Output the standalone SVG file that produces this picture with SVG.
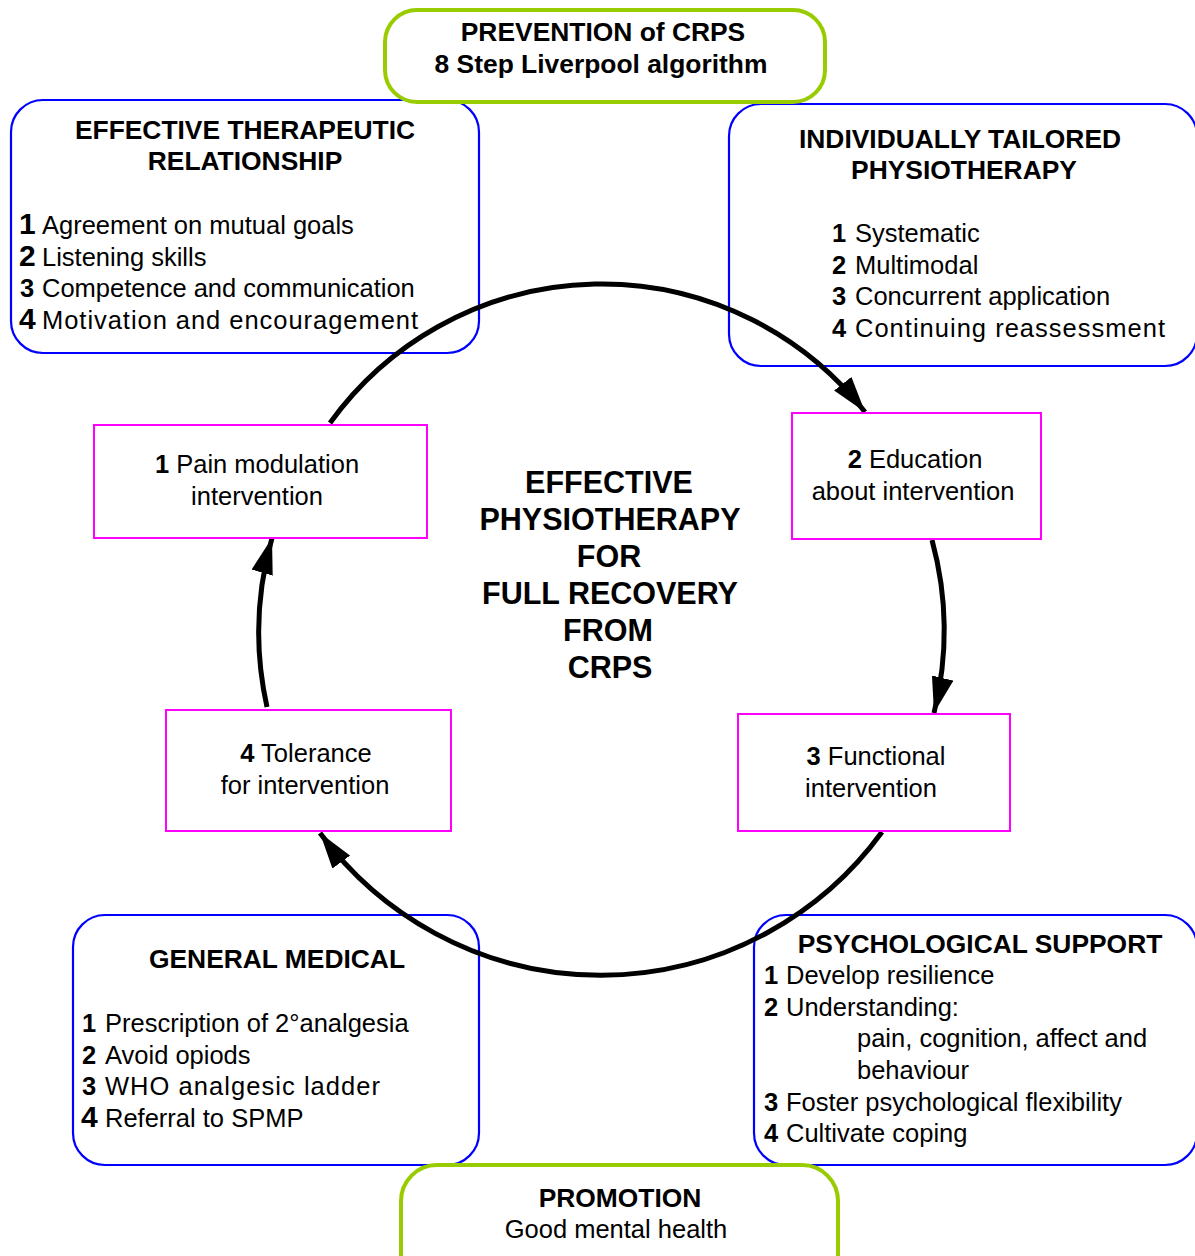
<svg xmlns="http://www.w3.org/2000/svg" width="1195" height="1256" viewBox="0 0 1195 1256">
<style>
text{font-family:"Liberation Sans",Arial,sans-serif;fill:#000}
.h{font-weight:bold;font-size:26.4px}
.t{font-size:25.5px}
.c{font-weight:bold;font-size:30.5px}
.b{font-weight:bold}
.bn{font-weight:bold;font-size:30px}
.mid{text-anchor:middle}
.blue{fill:#fff;stroke:#0000ff;stroke-width:2.2}
.green{fill:#fff;stroke:#99cc00;stroke-width:4}
.mag{fill:#fff;stroke:#ff00ff;stroke-width:2}
.arc{fill:none;stroke:#000;stroke-width:5;marker-end:url(#ah)}
</style>
<defs>
<marker id="ah" markerUnits="userSpaceOnUse" markerWidth="36" markerHeight="22" viewBox="0 0 36 22" refX="36" refY="11" orient="auto">
<path d="M0,0 L36,11 L0,22 z" fill="#000"/>
</marker>
</defs>
<rect width="1195" height="1256" fill="#fff"/>

<g id="therapeutic">
<rect class="blue" x="11" y="100" width="468" height="253" rx="32"/>
<text class="h mid" x="245" y="139">EFFECTIVE THERAPEUTIC</text>
<text class="h mid" x="245" y="170">RELATIONSHIP</text>
<text class="t"><tspan class="bn" x="19" y="234">1</tspan><tspan x="42" y="234">Agreement on mutual goals</tspan></text>
<text class="t"><tspan class="bn" x="19" y="265.5">2</tspan><tspan x="42" y="265.5">Listening skills</tspan></text>
<text class="t"><tspan class="b" x="20" y="297">3</tspan><tspan x="42" y="297">Competence and communication</tspan></text>
<text class="t"><tspan class="bn" x="19" y="328.5">4</tspan><tspan x="42" y="328.5" textLength="376" lengthAdjust="spacing">Motivation and encouragement</tspan></text>
</g>

<g id="tailored">
<rect class="blue" x="729" y="104" width="468" height="262" rx="32"/>
<text class="h mid" x="960" y="148">INDIVIDUALLY TAILORED</text>
<text class="h mid" x="964" y="179">PHYSIOTHERAPY</text>
<text class="t"><tspan class="b" x="832" y="242">1</tspan><tspan x="855" y="242">Systematic</tspan></text>
<text class="t"><tspan class="b" x="832" y="273.5">2</tspan><tspan x="855" y="273.5">Multimodal</tspan></text>
<text class="t"><tspan class="b" x="832" y="305">3</tspan><tspan x="855" y="305">Concurrent application</tspan></text>
<text class="t"><tspan class="b" x="832" y="337">4</tspan><tspan x="855" y="337" textLength="310" lengthAdjust="spacing">Continuing reassessment</tspan></text>
</g>

<g id="general-medical">
<rect class="blue" x="73" y="915" width="406" height="250" rx="32"/>
<text class="h mid" x="277" y="968">GENERAL MEDICAL</text>
<text class="t"><tspan class="b" x="82" y="1032">1</tspan><tspan x="105" y="1032">Prescription of 2°analgesia</tspan></text>
<text class="t"><tspan class="b" x="82" y="1063.5">2</tspan><tspan x="105" y="1063.5">Avoid opiods</tspan></text>
<text class="t"><tspan class="b" x="82" y="1095">3</tspan><tspan x="105" y="1095" textLength="275" lengthAdjust="spacing">WHO analgesic ladder</tspan></text>
<text class="t"><tspan class="bn" x="81" y="1127">4</tspan><tspan x="105" y="1127">Referral to SPMP</tspan></text>
</g>

<g id="psychological">
<rect class="blue" x="754" y="915" width="443" height="250" rx="32"/>
<text class="h mid" x="980" y="953">PSYCHOLOGICAL SUPPORT</text>
<text class="t"><tspan class="b" x="764" y="984">1</tspan><tspan x="786" y="984">Develop resilience</tspan></text>
<text class="t"><tspan class="b" x="764" y="1015.5">2</tspan><tspan x="786" y="1015.5">Understanding:</tspan></text>
<text class="t" x="857" y="1047">pain, cognition, affect and</text>
<text class="t" x="857" y="1078.5">behaviour</text>
<text class="t"><tspan class="b" x="764" y="1110.5">3</tspan><tspan x="786" y="1110.5">Foster psychological flexibility</tspan></text>
<text class="t"><tspan class="b" x="764" y="1142">4</tspan><tspan x="786" y="1142">Cultivate coping</tspan></text>
</g>

<g id="prevention">
<rect class="green" x="385" y="10" width="440" height="92" rx="32"/>
<text class="h mid" x="603" y="41">PREVENTION of CRPS</text>
<text class="h mid" x="601" y="73">8 Step Liverpool algorithm</text>
</g>

<g id="promotion">
<rect class="green" x="401" y="1165" width="437" height="130" rx="36"/>
<text class="h mid" x="620" y="1207">PROMOTION</text>
<text class="t mid" x="616" y="1238">Good mental health</text>
</g>

<g id="connectors">
<path class="arc" d="M330,423 A335,335 0 0 1 865,412"/>
<path class="arc" d="M932,540 A344,344 0 0 1 934,713"/>
<path class="arc" d="M882,832 A348,348 0 0 1 320,833"/>
<path class="arc" d="M267,707 A344,344 0 0 1 272,538"/>
</g>

<g id="center">
<text class="c mid" x="609" y="493">EFFECTIVE</text>
<text class="c mid" x="610" y="530">PHYSIOTHERAPY</text>
<text class="c mid" x="609" y="567">FOR</text>
<text class="c mid" x="610" y="604">FULL RECOVERY</text>
<text class="c mid" x="608" y="641">FROM</text>
<text class="c mid" x="610" y="678">CRPS</text>
</g>

<g id="step1">
<rect class="mag" x="94" y="425" width="333" height="113"/>
<text class="t mid" x="257" y="473"><tspan class="b">1</tspan> Pain modulation</text>
<text class="t mid" x="257" y="505">intervention</text>
</g>
<g id="step2">
<rect class="mag" x="792" y="413" width="249" height="126"/>
<text class="t mid" x="915" y="468"><tspan class="b">2</tspan> Education</text>
<text class="t mid" x="913" y="500">about intervention</text>
</g>
<g id="step3">
<rect class="mag" x="738" y="714" width="272" height="117"/>
<text class="t mid" x="876" y="765"><tspan class="b">3</tspan> Functional</text>
<text class="t mid" x="871" y="797">intervention</text>
</g>
<g id="step4">
<rect class="mag" x="166" y="710" width="285" height="121"/>
<text class="t mid" x="306" y="762"><tspan class="b">4</tspan> Tolerance</text>
<text class="t mid" x="305" y="794">for intervention</text>
</g>
</svg>
